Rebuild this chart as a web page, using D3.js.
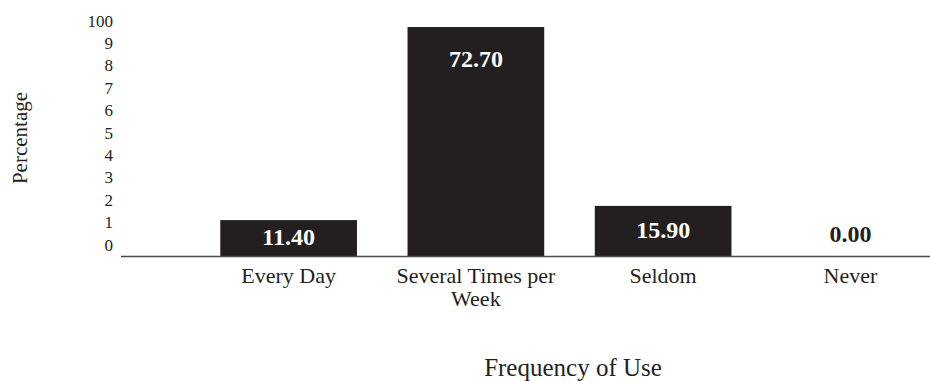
<!DOCTYPE html>
<html>
<head>
<meta charset="utf-8">
<script src="https://cdn.jsdelivr.net/npm/d3@7"></script>
<style>
  html, body { margin: 0; padding: 0; background: #fff; }
</style>
</head>
<body>
<svg id="chart" width="930" height="381" font-family="'Liberation Serif', 'DejaVu Serif', serif"></svg>
<script>
const categories = ["Every Day", "Several Times per Week", "Seldom", "Never"];
const categoryLines = [["Every Day"], ["Several Times per", "Week"], ["Seldom"], ["Never"]];
const values = [11.40, 72.70, 15.90, 0.00];
const tickLabels = ["0", "1", "2", "3", "4", "5", "6", "7", "8", "9", "100"];
const xTitle = "Frequency of Use";
const yTitle = "Percentage";

const FONT = "'Liberation Serif', 'DejaVu Serif', serif";
const INK = "#231f20";
const svg = d3.select("#chart");
const baseY = 256;

const x = d3.scaleBand().domain(categories).range([195, 944]).paddingInner(0.27).paddingOuter(0.135);
const y = d3.scaleLinear().domain([0, 100]).range([baseY, baseY - 315]);
const tickPos = d3.scalePoint().domain(tickLabels).range([245, 21]);

// bars
svg.selectAll("rect.bar").data(values).join("rect")
  .attr("class", "bar")
  .attr("x", (d, i) => x(categories[i]))
  .attr("width", x.bandwidth())
  .attr("y", d => y(d))
  .attr("height", d => y(0) - y(d))
  .attr("fill", INK);

// axis line
svg.append("line")
  .attr("x1", 121).attr("x2", 930)
  .attr("y1", baseY + 0.5).attr("y2", baseY + 0.5)
  .attr("stroke", "#4a4a4a").attr("stroke-width", 1.3);

// y tick labels
svg.selectAll("text.ytick").data(tickLabels).join("text")
  .attr("class", "ytick")
  .attr("font-family", FONT)
  .attr("fill", INK)
  .attr("x", 113)
  .attr("y", d => tickPos(d))
  .attr("text-anchor", "end")
  .attr("dominant-baseline", "central")
  .attr("font-size", 17)
  .text(d => d);

// value labels
svg.selectAll("text.val").data(values).join("text")
  .attr("class", "val")
  .attr("font-family", FONT)
  .attr("x", (d, i) => x(categories[i]) + x.bandwidth() / 2)
  .attr("y", d => d === 0 ? y(0) - 22 : Math.min((y(d) + y(0)) / 2 - 1, y(d) + 32))
  .attr("text-anchor", "middle")
  .attr("dominant-baseline", "central")
  .attr("font-size", 24)
  .attr("font-weight", "bold")
  .attr("fill", d => d === 0 ? INK : "#ffffff")
  .text(d => d.toFixed(2));

// category labels
const cat = svg.selectAll("text.cat").data(categoryLines).join("text")
  .attr("class", "cat")
  .attr("font-family", FONT)
  .attr("fill", INK)
  .attr("text-anchor", "middle")
  .attr("font-size", 22);
cat.each(function(lines, i) {
  const t = d3.select(this);
  lines.forEach((ln, j) => {
    t.append("tspan")
      .attr("x", x(categories[i]) + x.bandwidth() / 2)
      .attr("y", 283 + j * 23)
      .text(ln);
  });
});

// axis titles
svg.append("text")
  .attr("font-family", FONT)
  .attr("fill", INK)
  .attr("x", 573).attr("y", 376)
  .attr("text-anchor", "middle")
  .attr("font-size", 25)
  .text(xTitle);

svg.append("text")
  .attr("font-family", FONT)
  .attr("fill", INK)
  .attr("transform", "translate(20,138) rotate(-90)")
  .attr("text-anchor", "middle")
  .attr("dominant-baseline", "central")
  .attr("font-size", 21)
  .text(yTitle);
</script>
</body>
</html>
